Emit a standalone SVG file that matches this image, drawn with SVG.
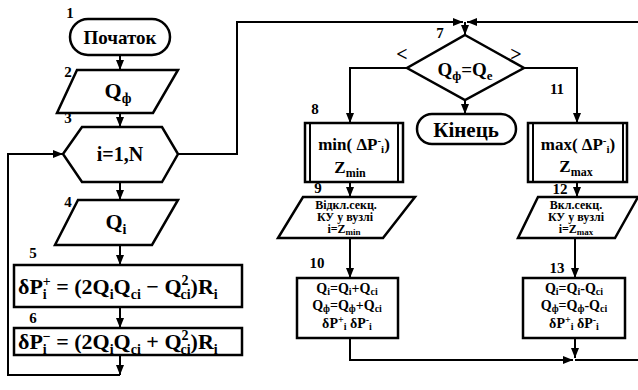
<svg xmlns="http://www.w3.org/2000/svg" width="638" height="390" viewBox="0 0 638 390" font-family="'Liberation Serif', 'DejaVu Serif', serif">
<defs>
<marker id="ah" markerWidth="10" markerHeight="8" refX="10" refY="4" orient="auto" markerUnits="userSpaceOnUse">
<path d="M0,0 L10,4 L0,8 Z" fill="#000"/>
</marker>
<style>
.sh{fill:#fff;stroke:#000;stroke-width:2.5}
.ln{fill:none;stroke:#000;stroke-width:2}
.t{font-family:'Liberation Serif','DejaVu Serif',serif;font-weight:bold;fill:#000}
.c{text-anchor:middle}
.n{font-size:15px}
.s{font-size:12px}
.b{font-size:14px}
</style>
</defs>
<rect width="638" height="390" fill="#fff"/>
<g id="connectors">
<line class="ln" x1="120" y1="55" x2="120" y2="70" marker-end="url(#ah)"/>
<line class="ln" x1="120" y1="113" x2="120" y2="127" marker-end="url(#ah)"/>
<line class="ln" x1="120" y1="182" x2="120" y2="200" marker-end="url(#ah)"/>
<line class="ln" x1="120" y1="245" x2="120" y2="265" marker-end="url(#ah)"/>
<line class="ln" x1="120" y1="307" x2="120" y2="328" marker-end="url(#ah)"/>
<line class="ln" x1="120" y1="355" x2="120" y2="375" marker-end="url(#ah)"/>
<polyline class="ln" points="120,375 8,375 8,154 63,154" marker-end="url(#ah)"/>
<polyline class="ln" points="178,154 237,154 237,22 463,22" marker-end="url(#ah)"/>
<line class="ln" x1="638" y1="22" x2="467" y2="22" marker-end="url(#ah)"/>
<line class="ln" x1="465" y1="22" x2="465" y2="35" marker-end="url(#ah)"/>
<polyline class="ln" points="407,68 350,68 350,123" marker-end="url(#ah)"/>
<polyline class="ln" points="524,68 577,68 577,123" marker-end="url(#ah)"/>
<line class="ln" x1="465" y1="100" x2="465" y2="114" marker-end="url(#ah)"/>
<line class="ln" x1="350" y1="182" x2="350" y2="197" marker-end="url(#ah)"/>
<line class="ln" x1="577" y1="182" x2="577" y2="197" marker-end="url(#ah)"/>
<line class="ln" x1="350" y1="238" x2="350" y2="278" marker-end="url(#ah)"/>
<line class="ln" x1="575" y1="238" x2="575" y2="278" marker-end="url(#ah)"/>
<polyline class="ln" points="350,338 350,360 573,360" marker-end="url(#ah)"/>
<line class="ln" x1="575" y1="338" x2="575" y2="358" marker-end="url(#ah)"/>
<line class="ln" x1="575" y1="360" x2="638" y2="360"/>
</g>
<g id="n1">
<rect class="sh" x="70" y="19" width="100" height="36" rx="18"/>
<text class="t c" x="120" y="44" font-size="19">Початок</text>
<text class="t c n" x="70" y="18">1</text>
</g>
<g id="n2">
<polygon class="sh" points="77,70 178,70 153,113 57,113"/>
<text class="t c" x="118" y="98" font-size="22">Q<tspan font-size="14" dy="5">ф</tspan></text>
<text class="t c n" x="68" y="77">2</text>
</g>
<g id="n3">
<polygon class="sh" points="63,154 82,127 162,127 178,154 162,182 82,182"/>
<text class="t c" x="120" y="161" font-size="20">i=1,N</text>
<text class="t c n" x="68" y="123">3</text>
</g>
<g id="n4">
<polygon class="sh" points="78,200 178,200 152,245 55,245"/>
<text class="t c" x="116" y="229" font-size="22">Q<tspan font-size="14" dy="5">i</tspan></text>
<text class="t c n" x="68" y="207">4</text>
</g>
<g id="n5">
<rect class="sh" x="14" y="265" width="228" height="42"/>
<text class="t" x="18" y="294" font-size="22">δP<tspan font-size="14" dy="5">i</tspan><tspan font-size="14" dx="-4" dy="-13">+</tspan><tspan dy="8"> = (2Q</tspan><tspan font-size="14" dy="5">i</tspan><tspan dy="-5">Q</tspan><tspan font-size="14" dy="5">ci</tspan><tspan dy="-5"> − Q</tspan><tspan font-size="14" dy="-9">2</tspan><tspan font-size="14" dx="-8" dy="14">ci</tspan><tspan dy="-5">)R</tspan><tspan font-size="14" dy="5">i</tspan></text>
<text class="t c n" x="33" y="258">5</text>
</g>
<g id="n6">
<rect class="sh" x="14" y="328" width="228" height="27"/>
<text class="t" x="18" y="349" font-size="22">δP<tspan font-size="14" dy="5">i</tspan><tspan font-size="14" dx="-4" dy="-13">−</tspan><tspan dy="8"> = (2Q</tspan><tspan font-size="14" dy="5">i</tspan><tspan dy="-5">Q</tspan><tspan font-size="14" dy="5">ci</tspan><tspan dy="-5"> + Q</tspan><tspan font-size="14" dy="-9">2</tspan><tspan font-size="14" dx="-8" dy="14">ci</tspan><tspan dy="-5">)R</tspan><tspan font-size="14" dy="5">i</tspan></text>
<text class="t c n" x="33" y="323">6</text>
</g>
<g id="n7">
<polygon class="sh" points="465,35 524,68 465,100 407,68"/>
<text class="t c" x="465" y="76" font-size="19">Q<tspan font-size="13" dy="4">ф</tspan><tspan dy="-4">=Q</tspan><tspan font-size="13" dy="4">e</tspan></text>
<text class="t c n" x="440" y="38">7</text>
<text class="t c" x="402" y="61" font-size="20">&lt;</text>
<text class="t c" x="516" y="61" font-size="20">&gt;</text>
</g>
<g id="n8">
<rect class="sh" x="305" y="123" width="98" height="59"/>
<line class="ln" x1="310" y1="123" x2="310" y2="182"/>
<line class="ln" x1="398" y1="123" x2="398" y2="182"/>
<text class="t c" x="354" y="150" font-size="17">min( ΔP<tspan font-size="11" dy="-6">-</tspan><tspan font-size="11" dy="9">i</tspan><tspan dy="-3">)</tspan></text>
<text class="t c" x="350" y="173" font-size="17">Z<tspan font-size="12" dy="4">min</tspan></text>
<text class="t c n" x="315" y="114">8</text>
</g>
<g id="nEnd">
<rect class="sh" x="417" y="114" width="99" height="30" rx="15"/>
<text class="t c" x="466" y="137" font-size="21">Кінець</text>
</g>
<g id="n11">
<rect class="sh" x="528" y="123" width="99" height="59"/>
<line class="ln" x1="533" y1="123" x2="533" y2="182"/>
<line class="ln" x1="623" y1="123" x2="623" y2="182"/>
<text class="t c" x="578" y="150" font-size="17">max( ΔP<tspan font-size="11" dy="-6">-</tspan><tspan font-size="11" dy="9">i</tspan><tspan dy="-3">)</tspan></text>
<text class="t c" x="576" y="172" font-size="17">Z<tspan font-size="12" dy="4">max</tspan></text>
<text class="t c n" x="557" y="94">11</text>
</g>
<g id="n9">
<polygon class="sh" points="303,197 415,197 383,238 278,238"/>
<text class="t c s" x="346" y="209">Відкл.секц.</text>
<text class="t c s" x="345" y="221">КУ у вузлі</text>
<text class="t c s" x="344" y="233">і=Z<tspan font-size="9" dy="2">min</tspan></text>
<text class="t c n" x="318" y="193">9</text>
</g>
<g id="n12">
<polygon class="sh" points="538,197 638,197 615,238 518,238"/>
<text class="t c s" x="576" y="209">Вкл.секц.</text>
<text class="t c s" x="576" y="221">КУ у вузлі</text>
<text class="t c s" x="576" y="233">і=Z<tspan font-size="9" dy="2">max</tspan></text>
<text class="t c n" x="560" y="194">12</text>
</g>
<g id="n10">
<rect class="sh" x="297" y="278" width="101" height="60"/>
<text class="t c b" x="347" y="293">Q<tspan font-size="10" dy="2">i</tspan><tspan dy="-2">=Q</tspan><tspan font-size="10" dy="2">i</tspan><tspan dy="-2">+Q</tspan><tspan font-size="10" dy="2">ci</tspan></text>
<text class="t c b" x="347" y="310">Q<tspan font-size="10" dy="2">ф</tspan><tspan dy="-2">=Q</tspan><tspan font-size="10" dy="2">ф</tspan><tspan dy="-2">+Q</tspan><tspan font-size="10" dy="2">ci</tspan></text>
<text class="t c b" x="347" y="328">δP<tspan font-size="10" dy="-5">+</tspan><tspan font-size="10" dy="7">i</tspan><tspan dy="-2"> δP</tspan><tspan font-size="10" dy="-5">-</tspan><tspan font-size="10" dy="7">i</tspan></text>
<text class="t c n" x="317" y="268">10</text>
</g>
<g id="n13">
<rect class="sh" x="523" y="278" width="102" height="60"/>
<text class="t c b" x="574" y="293">Q<tspan font-size="10" dy="2">i</tspan><tspan dy="-2">=Q</tspan><tspan font-size="10" dy="2">i</tspan><tspan dy="-2">-Q</tspan><tspan font-size="10" dy="2">ci</tspan></text>
<text class="t c b" x="574" y="310">Q<tspan font-size="10" dy="2">ф</tspan><tspan dy="-2">=Q</tspan><tspan font-size="10" dy="2">ф</tspan><tspan dy="-2">-Q</tspan><tspan font-size="10" dy="2">ci</tspan></text>
<text class="t c b" x="574" y="328">δP<tspan font-size="10" dy="-5">+</tspan><tspan font-size="10" dy="7">i</tspan><tspan dy="-2"> δP</tspan><tspan font-size="10" dy="-5">-</tspan><tspan font-size="10" dy="7">i</tspan></text>
<text class="t c n" x="557" y="273">13</text>
</g>
</svg>
